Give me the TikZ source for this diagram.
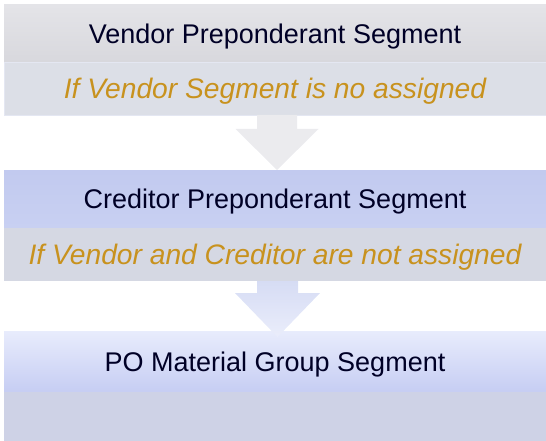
\documentclass[tikz,border=0pt]{standalone}
\usepackage{fontspec}
\setmainfont{Liberation Sans}
\usepackage{tikz}
\usetikzlibrary{calc, positioning}

\definecolor{segtext}{HTML}{C8921E}
\definecolor{arrowgray}{HTML}{EBEBEE}

\tikzset{
  band/.style={minimum width=542pt, inner sep=0pt, outer sep=0pt,
    text height=19.3pt, text depth=0pt,
    font=\fontsize{27}{32}\selectfont},
  titleband/.style={band, text=black!85!blue},
  condband/.style={band, text=segtext, text height=19.6pt,
    font=\fontsize{28.2}{32}\selectfont\itshape}
}

\begin{document}
\begin{tikzpicture}[x=1pt, y=-1pt]
  \useasboundingbox (0,0) rectangle (546,441);
  % vendor
  \node (vtitle) at (275,33.5) [titleband, minimum height=57pt, top color={rgb,255:red,228;green,228;blue,232}, bottom color={rgb,255:red,216;green,216;blue,221}] {Vendor Preponderant Segment};
  \node (vcond) at (275,88.5) [condband, minimum height=53pt, fill={rgb,255:red,220;green,223;blue,231}, draw={rgb,255:red,228;green,231;blue,242}] {If Vendor Segment is no assigned};
  % creditor
  \node (ctitle) at (275,199) [titleband, minimum height=58pt, top color={rgb,255:red,194;green,202;blue,239}, bottom color={rgb,255:red,200;green,208;blue,242}] {Creditor Preponderant Segment};
  \node (ccond) at (275,254.5) [condband, minimum height=53pt, fill={rgb,255:red,213;green,216;blue,227}] {If Vendor and Creditor are not assigned};
  % po material group
  \node (ptitle) at (275,361.5) [titleband, minimum height=61pt, top color={rgb,255:red,232;green,236;blue,252}, bottom color={rgb,255:red,198;green,205;blue,243}] {PO Material Group Segment};
  \node (pcond) at (275,416.5) [band, minimum height=50pt, fill={rgb,255:red,206;green,210;blue,230}] {};

  \coordinate (vtail) at ($(vcond.south)+(2,0)$);
  \coordinate (ctip) at ($(ctitle.north)+(2,0)$);
  \fill [arrowgray] ($(vtail)+(-20,0)$) -- ($(vtail)+(20,0)$)
    -- ($(ctip)+(20,-41)$) -- ($(ctip)+(41.5,-41)$) -- (ctip)
    -- ($(ctip)+(-41.5,-41)$) -- ($(ctip)+(-20,-41)$) -- cycle;
  \coordinate (ctail) at ($(ccond.south)+(2.5,0)$);
  \coordinate (ptip) at ($(ptitle.north)+(2.5,6)$);
  \shade [top color={rgb,255:red,214;green,220;blue,244}, bottom color={rgb,255:red,234;green,237;blue,251}]
    ($(ctail)+(-20.5,0)$) -- ($(ctail)+(20.5,0)$)
    -- ($(ptip)+(20.5,-44)$) -- ($(ptip)+(42.5,-44)$) -- (ptip)
    -- ($(ptip)+(-42.5,-44)$) -- ($(ptip)+(-20.5,-44)$) -- cycle;
\end{tikzpicture}
\end{document}
